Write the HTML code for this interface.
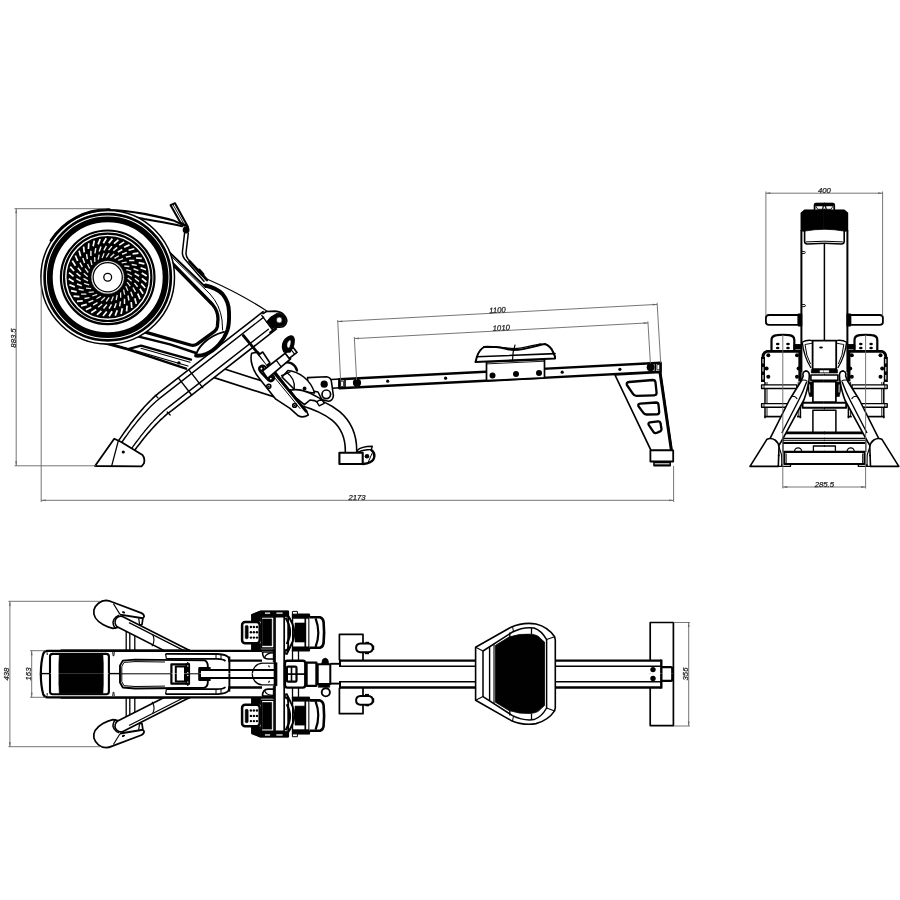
<!DOCTYPE html>
<html><head><meta charset="utf-8"><title>Rowing machine dimensions</title>
<style>html,body{margin:0;padding:0;background:#fff;}svg{display:block;font-family:"Liberation Sans",sans-serif;will-change:transform;opacity:0.999;}</style>
</head><body>
<svg width="900" height="900" viewBox="0 0 900 900">
<rect width="900" height="900" fill="#fff"/>
<g id="side-view" stroke-linejoin="round" stroke-linecap="round">
<path d="M205,368.7 L300,399.2 C327,407 352,418.5 351,452.5" stroke="#000" stroke-width="13" fill="none" stroke-linecap="butt"/>
<path d="M205,368.7 L300,399.2 C327,407 352,418.5 351,452.5" stroke="#fff" stroke-width="9.8" fill="none" stroke-linecap="butt"/>
<path d="M357,450.7 C360,447.5 366,446.3 372.3,446.3 L371.3,449.5 C366,449.5 361.5,450.5 358,452.3 Z" stroke="#000" stroke-width="1.4" fill="#fff" />
<path d="M371.3,450 C375.6,453 375.6,459.5 370,462.3 Q367.5,463.7 363,464" stroke="#000" stroke-width="2.4" fill="none" />
<line x1="372" y1="453.5" x2="368.2" y2="462.2" stroke="#000" stroke-width="1.0" />
<circle cx="367" cy="456.3" r="2.3" fill="#000"/>
<rect x="339.4" y="452.7" width="23.3" height="11.3" rx="0" stroke="#000" stroke-width="2.1" fill="#fff"/>
<path d="M263.1,311.7 L212.8,350.9 L158.3,393.4 L156.7,394.8 L155.1,396.2 L153.5,397.7 L151.9,399.2 L150.3,400.8 L148.7,402.4 L147.1,404 L145.4,405.8 L143.8,407.5 L142.2,409.4 L140.6,411.2 L138.9,413.2 L137.3,415.2 L135.6,417.2 L134,419.3 L132.3,421.4 L130.6,423.6 L129,425.9 L127.3,428.2 L125.6,430.5 L123.9,432.9 L122.2,435.4 L120.5,437.9 L118.7,440.4 L134.1,451.2 L135.8,448.8 L137.5,446.4 L139.3,444.2 L141,442 L142.7,439.8 L144.3,437.8 L146,435.7 L147.6,433.8 L149.3,431.9 L150.9,430 L152.5,428.3 L154.1,426.5 L155.6,424.9 L157.2,423.3 L158.7,421.7 L160.2,420.2 L161.7,418.8 L163.2,417.5 L164.7,416.1 L166.1,414.9 L167.5,413.7 L168.9,412.6 L170.3,411.6 L171.7,410.6 L226.2,368.1 L276.5,328.9 Z" stroke="#fff" stroke-width="0.1" fill="#fff" />
<path d="M263.1,311.7 L212.8,350.9 L158.3,393.4 L156.7,394.8 L155.1,396.2 L153.5,397.7 L151.9,399.2 L150.3,400.8 L148.7,402.4 L147.1,404 L145.4,405.8 L143.8,407.5 L142.2,409.4 L140.6,411.2 L138.9,413.2 L137.3,415.2 L135.6,417.2 L134,419.3 L132.3,421.4 L130.6,423.6 L129,425.9 L127.3,428.2 L125.6,430.5 L123.9,432.9 L122.2,435.4 L120.5,437.9 L118.7,440.4" stroke="#000" stroke-width="1.6" fill="none" />
<path d="M276.5,328.9 L226.2,368.1 L171.7,410.6 L170.3,411.6 L168.9,412.6 L167.5,413.7 L166.1,414.9 L164.7,416.1 L163.2,417.5 L161.7,418.8 L160.2,420.2 L158.7,421.7 L157.2,423.3 L155.6,424.9 L154.1,426.5 L152.5,428.3 L150.9,430 L149.3,431.9 L147.6,433.8 L146,435.7 L144.3,437.8 L142.7,439.8 L141,442 L139.3,444.2 L137.5,446.4 L135.8,448.8 L134.1,451.2" stroke="#000" stroke-width="1.6" fill="none" />
<path d="M266,315.4 L215.7,354.6 L161.2,397.1 L159.6,398.4 L158.1,399.7 L156.5,401.1 L154.9,402.5 L153.3,404 L151.7,405.5 L150.1,407.1 L148.5,408.8 L146.9,410.5 L145.3,412.2 L143.6,414 L142,415.9 L140.4,417.8 L138.7,419.8 L137,421.8 L135.4,423.9 L133.7,426 L132,428.2 L130.3,430.4 L128.6,432.7 L126.9,435.1 L125.1,437.5 L123.4,440 L121.7,442.5" stroke="#000" stroke-width="1.36" fill="none" />
<path d="M273.6,325.2 L223.3,364.4 L168.8,406.9 L167.4,408 L166,409.1 L164.6,410.3 L163.1,411.6 L161.7,412.9 L160.2,414.3 L158.7,415.7 L157.2,417.2 L155.7,418.8 L154.1,420.4 L152.6,422.1 L151,423.8 L149.4,425.6 L147.8,427.5 L146.2,429.4 L144.6,431.3 L143,433.3 L141.3,435.4 L139.7,437.6 L138,439.8 L136.3,442 L134.6,444.3 L132.9,446.7 L131.1,449.1" stroke="#000" stroke-width="1.36" fill="none" />
<path d="M95,466 L114.2,438.7 L120.8,441.7 L142.5,455 Q145.2,458.5 144,463.3 L141.7,466.3 Z" stroke="#000" stroke-width="1.8" fill="#fff" />
<line x1="118.3" y1="440.8" x2="111.7" y2="465.8" stroke="#000" stroke-width="1.3" />
<circle cx="123.3" cy="452" r="1.6" fill="#000"/>
<line x1="189.3" y1="370.4" x2="202.7" y2="387.6" stroke="#000" stroke-width="1.4" />
<line x1="178.3" y1="377.9" x2="191.7" y2="395" stroke="#000" stroke-width="1.4" />
<line x1="155.2" y1="395.2" x2="158.2" y2="398.2" stroke="#000" stroke-width="1.2" />
<line x1="167.2" y1="412" x2="170.2" y2="415" stroke="#000" stroke-width="1.2" />
<path d="M263,313.6 L266.5,311.5 L275,311.2 Q281,311.7 284.2,315.2 Q287.2,318.6 286.7,321.6 Q286,325.2 283.5,326.5 Q281,327.4 277,326.9 L270,332.5" stroke="#000" stroke-width="1.7" fill="#fff" />
<path d="M266.8,321.5 L270.3,317.3 L277,313.3 Q283.2,313.4 285.5,318.5 Q286.6,323.5 283,325.8 L277,326.5 L272.3,328.7 Z" stroke="#000" stroke-width="0.8" fill="#000" />
<circle cx="279.3" cy="320" r="2.9" stroke="#000" stroke-width="0.6" fill="#fff"/>
<line x1="261.7" y1="315.3" x2="272.7" y2="330" stroke="#000" stroke-width="1.3" />
<path d="M70,331 L86.7,340 L103.3,342.8 L127.8,349.4 L186,368.6" stroke="#000" stroke-width="2.5" fill="none" />
<path d="M100,340.4 L188,366" stroke="#000" stroke-width="1.1" fill="none" />
<path d="M128.9,348.9 L141.1,345.6 L191,359.6" stroke="#000" stroke-width="2.3" fill="none" />
<path d="M141,348.3 L190,362.3" stroke="#000" stroke-width="1.1" fill="none" />
<path d="M136.7,336.1 L170,344.4 L196,353" stroke="#000" stroke-width="2.5" fill="none" />
<circle cx="178.9" cy="362.9" r="1.7" fill="#000"/>
<path d="M160,243.2 L205.5,287" stroke="#000" stroke-width="1.9" fill="none" />
<path d="M205.5,285.5 C212,287 219,290.5 222.5,294 C227,299.5 229,305 229,312 C229.3,319 229,325 227.5,330 C225.5,336 222,341 219,344.5 C215,349 210,352.5 206,354 C202,355.5 199,356 196,355.6" stroke="#000" stroke-width="3.9" fill="none" />
<path d="M196,355.6 C197,349 206,336.5 224,331.8" stroke="#000" stroke-width="1.8" fill="none" />
<path d="M161,246.2 L210,294 Q220,305 222,320 L222.6,330" stroke="#000" stroke-width="1.0" fill="none" />
<path d="M219.5,303.5 L221,308 M222.3,312 L222.8,316.5 M225,322 L225,326" stroke="#fff" stroke-width="0.9" fill="none" />
<path d="M165,256 L212.5,304.5 Q218,311 218,319 L217.4,326.5 Q217,329.5 214.5,331.3 L197,344.2 Q194,346 190.5,345 L140,330.6" stroke="#000" stroke-width="3.3" fill="none" />
<path d="M108.9,210 C122,210 134,212 144.4,213.9 C155,216 165,218 173.3,220.4 L184.4,225.6" stroke="#000" stroke-width="2.1" fill="none" />
<path d="M110,212.4 C122,214.5 134,216.8 144.4,219 C158,221.5 170,223.5 182.2,226.2" stroke="#000" stroke-width="2.0" fill="none" />
<path d="M170.6,205.2 L175,203.2 L188,227 L180.4,222.4 Z" stroke="#000" stroke-width="2.0" fill="#fff" />
<line x1="173" y1="204.6" x2="184.6" y2="225" stroke="#000" stroke-width="0.9" />
<circle cx="186.1" cy="230" r="3.4" fill="#000"/>
<path d="M184.6,233 L182.4,252 Q182.2,256 184.6,259 L204,281.2" stroke="#000" stroke-width="1.5" fill="none" />
<path d="M188.3,233.2 L186,253 Q186,256.5 188,259 L207,279.5" stroke="#000" stroke-width="1.5" fill="none" />
<path d="M189.5,261.5 L207,280" stroke="#000" stroke-width="2.6" fill="none" />
<path d="M199,270.5 L202.5,274.5" stroke="#000" stroke-width="4.0" fill="none" />
<path d="M208,279.5 Q240,293.5 267.2,311.2" stroke="#000" stroke-width="1.1" fill="none" />
<circle cx="107.7" cy="277.3" r="66.8" stroke="#000" stroke-width="1.5" fill="#fff"/>
<path d="M51,240.5 A67.6,67.6 0 0 1 109.5,209.7" stroke="#000" stroke-width="2.8" fill="none" />
<circle cx="107.7" cy="277.3" r="63.1" stroke="#000" stroke-width="2.7" fill="none"/>
<circle cx="107.7" cy="277.3" r="57.9" stroke="#000" stroke-width="5.8" fill="none"/>
<circle cx="107.7" cy="277.3" r="46.8" stroke="#000" stroke-width="2.2" fill="none"/>
<circle cx="107.7" cy="277.3" r="43.7" stroke="#000" stroke-width="2.2" fill="none"/>
<circle cx="107.7" cy="277.3" r="28.8" stroke="#000" stroke-width="24.8" fill="none"/>
<path d="M141.9,278.3L146.4,282M141.3,283.6L145.2,288M139.9,288.8L143.1,293.8M137.7,293.7L140.1,299.1M134.8,298.2L136.3,303.9M131.2,302.2L131.8,308M127,305.6L126.6,311.4M122.3,308.3L121.1,314M117.3,310.2L115.2,315.6M112.1,311.3L109.1,316.3M106.7,311.5L103,316M101.4,310.9L97,314.8M96.2,309.5L91.2,312.7M91.3,307.3L85.9,309.7M86.8,304.4L81.1,305.9M82.8,300.8L77,301.4M79.4,296.6L73.6,296.2M76.7,291.9L71,290.7M74.8,286.9L69.4,284.8M73.7,281.7L68.7,278.7M73.5,276.3L69,272.6M74.1,271L70.2,266.6M75.5,265.8L72.3,260.8M77.7,260.9L75.3,255.5M80.6,256.4L79.1,250.7M84.2,252.4L83.6,246.6M88.4,249L88.8,243.2M93.1,246.3L94.3,240.6M98.1,244.4L100.2,239M103.3,243.3L106.3,238.3M108.7,243.1L112.4,238.6M114,243.7L118.4,239.8M119.2,245.1L124.2,241.9M124.1,247.3L129.5,244.9M128.6,250.2L134.3,248.7M132.6,253.8L138.4,253.2M136,258L141.8,258.4M138.7,262.7L144.4,263.9M140.6,267.7L146,269.8M141.7,272.9L146.7,275.9" stroke="#fff" stroke-width="1.7" fill="none" stroke-linecap="butt"/>
<path d="M134.9,278.2L138.9,281.5M134.4,282.9L137.6,286.8M133,287.5L135.5,291.9M130.8,291.7L132.6,296.5M128,295.5L128.9,300.5M124.5,298.7L124.5,303.9M120.5,301.3L119.6,306.4M116.2,303.2L114.4,308M111.5,304.3L109,308.7M106.8,304.5L103.5,308.5M102.1,304L98.2,307.2M97.5,302.6L93.1,305.1M93.3,300.4L88.5,302.2M89.5,297.6L84.5,298.5M86.3,294.1L81.1,294.1M83.7,290.1L78.6,289.2M81.8,285.8L77,284M80.7,281.1L76.3,278.6M80.5,276.4L76.5,273.1M81,271.7L77.8,267.8M82.4,267.1L79.9,262.7M84.6,262.9L82.8,258.1M87.4,259.1L86.5,254.1M90.9,255.9L90.9,250.7M94.9,253.3L95.8,248.2M99.2,251.4L101,246.6M103.9,250.3L106.4,245.9M108.6,250.1L111.9,246.1M113.3,250.6L117.2,247.4M117.9,252L122.3,249.5M122.1,254.2L126.9,252.4M125.9,257L130.9,256.1M129.1,260.5L134.3,260.5M131.7,264.5L136.8,265.4M133.6,268.8L138.4,270.6M134.7,273.5L139.1,276" stroke="#f4f4f4" stroke-width="1.45" fill="none" stroke-linecap="butt"/>
<path d="M127.7,277.9L131.6,281.3M127.2,282.1L130.3,286.2M125.8,286L127.9,290.7M123.5,289.6L124.7,294.6M120.6,292.6L120.7,297.7M117.2,295L116.2,300M113.3,296.6L111.3,301.3M109.2,297.3L106.2,301.5M105,297.2L101.2,300.7M100.9,296.2L96.5,298.8M97.1,294.3L92.3,296M93.8,291.8L88.7,292.4M91.1,288.6L86,288.1M89.1,284.9L84.2,283.4M88,280.9L83.5,278.4M87.7,276.7L83.8,273.3M88.2,272.5L85.1,268.4M89.6,268.6L87.5,263.9M91.9,265L90.7,260M94.8,262L94.7,256.9M98.2,259.6L99.2,254.6M102.1,258L104.1,253.3M106.2,257.3L109.2,253.1M110.4,257.4L114.2,253.9M114.5,258.4L118.9,255.8M118.3,260.3L123.1,258.6M121.6,262.8L126.7,262.2M124.3,266L129.4,266.5M126.3,269.7L131.2,271.2M127.4,273.7L131.9,276.2" stroke="#e8e8e8" stroke-width="1.3" fill="none" stroke-linecap="butt"/>
<circle cx="107.7" cy="277.3" r="16.6" stroke="#000" stroke-width="0.6" fill="#fff"/>
<circle cx="107.7" cy="277.3" r="14.6" stroke="#000" stroke-width="1.3" fill="none"/>
<circle cx="107.7" cy="277.3" r="3.9" stroke="#000" stroke-width="1.3" fill="none"/>
<path d="M339.3,379.3 L660.7,362.8 L660.7,371.8 L339.3,388.3 Z" stroke="#000" stroke-width="2.4" fill="#fff" />
<line x1="345" y1="379" x2="345" y2="388" stroke="#000" stroke-width="1.6" />
<rect x="341" y="381.2" width="2.6" height="5.4" rx="0" stroke="#000" stroke-width="0.8" fill="none"/>
<circle cx="357" cy="382.8" r="4.1" fill="#000"/>
<line x1="655.3" y1="363.1" x2="655.3" y2="372.1" stroke="#000" stroke-width="1.5" />
<rect x="657.3" y="364.6" width="2.6" height="5.2" rx="0" stroke="#000" stroke-width="0.8" fill="none"/>
<circle cx="650.6" cy="367.2" r="3.9" fill="#000"/>
<circle cx="387.7" cy="381.2" r="1.6" fill="#000"/>
<circle cx="445.6" cy="378.2" r="1.6" fill="#000"/>
<circle cx="562.2" cy="372.2" r="1.6" fill="#000"/>
<circle cx="619.9" cy="369.3" r="1.6" fill="#000"/>
<path d="M615,375 L660.3,372.3 L671.7,450.3 L651,450.3 Z" stroke="#000" stroke-width="1.7" fill="#fff" />
<line x1="660" y1="372.3" x2="671.4" y2="450.3" stroke="#000" stroke-width="3.0" />
<path d="M629,382 L652.8,380 Q655.2,380 655.5,382.4 L656.6,392.8 Q656.6,395.2 654.2,395.3 L636.5,395.8 Q634,395.7 632.8,393.6 L626.9,385 Q626,382.3 629,382 Z" stroke="#000" stroke-width="2.3" fill="none" />
<path d="M640.2,403.6 L656,402.5 Q658.2,402.5 658.5,404.7 L659.2,412 Q659.2,414.2 657,414.3 L646.5,414.5 Q644.3,414.4 643.2,412.6 L638.5,406.2 Q637.5,403.8 640.2,403.6 Z" stroke="#000" stroke-width="2.3" fill="none" />
<path d="M650,422.3 L658,421.3 Q660.2,421.2 660.5,423.3 L661.5,429 Q661.5,431 659.5,431.6 L656.5,433 Q654.5,433.5 653.4,431.8 L648.7,424.9 Q647.8,422.7 650,422.3 Z" stroke="#000" stroke-width="2.3" fill="none" />
<rect x="650.4" y="450.3" width="22.8" height="11.2" rx="0" stroke="#000" stroke-width="1.8" fill="#fff"/>
<rect x="654" y="462.2" width="16.2" height="3.6" rx="0" stroke="#000" stroke-width="1.5" fill="#fff"/>
<line x1="654" y1="464.2" x2="670" y2="464.2" stroke="#000" stroke-width="1.0" />
<path d="M486.5,362 L544.5,359.4 L544.5,377.8 L486.5,380.7 Z" stroke="#000" stroke-width="1.7" fill="#fff" />
<line x1="486.5" y1="363.9" x2="544.5" y2="361.2" stroke="#000" stroke-width="0.9" />
<circle cx="492.5" cy="375.5" r="3" fill="#000"/>
<circle cx="516" cy="373.9" r="3" fill="#000"/>
<circle cx="539" cy="373" r="3" fill="#000"/>
<path d="M475.5,362 L477,356.5 Q479.5,349.5 484,347 L496,347 C503,347.5 508,350 514,350 C526,350 536,345.5 545,344 Q551,346.5 553,352 L555,356.5 L555,358.4 Z" stroke="#000" stroke-width="2.0" fill="#fff" />
<path d="M477,356.8 L555,353.6" stroke="#000" stroke-width="1.6" fill="none" />
<path d="M484,346.6 C492,345.8 503,348.2 514,348.6 C524,348.6 533,345 541,343.8" stroke="#000" stroke-width="1.3" fill="none" />
<path d="M515,345 Q512.5,352 512.6,359.6" stroke="#000" stroke-width="1.2" fill="none" />
<path d="M331.5,379.4 L340,379 M332,388.3 L340,387.8" stroke="#000" stroke-width="1.5" fill="none" />
<path d="M307.5,377.6 L326.7,376.8 Q330.8,377.6 331.4,381.5 L333.4,395.5 Q333,400.8 328.5,401.3 L322,399.8 L318,392 L308,390 Z" stroke="#000" stroke-width="1.6" fill="#fff" />
<circle cx="324.2" cy="384.2" r="3.6" fill="#000"/>
<circle cx="326.3" cy="394.3" r="4.3" stroke="#000" stroke-width="1.7" fill="#fff"/>
<path d="M283.5,363 C289,360.5 295.5,364.5 297,370.5" stroke="#000" stroke-width="2.4" fill="none" />
<path d="M288,370.5 C299,371.5 311,380 314.5,393 L296,391 L282,377 Z" stroke="#000" stroke-width="1.6" fill="#fff" />
<path d="M286.7,372.5 C292.5,376.5 295,383 294.2,389" stroke="#000" stroke-width="1.4" fill="none" />
<path d="M281.5,375.5 C285,374 288,373 290,372" stroke="#000" stroke-width="1.3" fill="none" />
<path d="M290,390.3 C297,388.3 308,391 318.5,397.6 L323.3,400.2 L320.5,401.8 L316.7,401.7 L314.2,400.6 L310,400 L304.5,404.6 L296,398 Z" stroke="#000" stroke-width="1.6" fill="#fff" />
<path d="M316.7,401.7 L321.7,399.2 L324.2,403.3 L319.2,405.8 Z" stroke="#000" stroke-width="1.4" fill="#fff" />
<circle cx="304.6" cy="388.4" r="1.9" fill="#000"/>
<path d="M251.7,353.3 C249.5,360 253,371 259,378 L275.8,399.2 L290,408.3 L298.3,415.8 Q303,418.3 308.3,415 L306.5,411 L302,406.5 L268,362.5 L258,352 Z" stroke="#000" stroke-width="1.6" fill="#fff" />
<line x1="243.3" y1="335.5" x2="306" y2="411.2" stroke="#000" stroke-width="2.8" />
<line x1="272.5" y1="375" x2="300" y2="408.5" stroke="#000" stroke-width="1.0" />
<path d="M259.3,354.5 L262.7,352 L270,363 L267,365.2" stroke="#000" stroke-width="1.6" fill="#fff" />
<path d="M260.5,366.5 Q258,369 260.5,372 L268.5,380.5 Q271.5,382.5 273.5,380 Q275,377.5 273,375.5 L265,366.5 Q262.5,364.5 260.5,366.5 Z" stroke="#000" stroke-width="2.0" fill="#fff" />
<circle cx="261.3" cy="368.6" r="2.1" stroke="#000" stroke-width="2.0" fill="none"/>
<circle cx="270.8" cy="378.6" r="1.9" stroke="#000" stroke-width="2.0" fill="none"/>
<circle cx="268.8" cy="386.3" r="2" stroke="#000" stroke-width="1.6" fill="none"/>
<circle cx="268.8" cy="386.3" r="0.9" fill="#000"/>
<circle cx="294.6" cy="405.4" r="1.9" stroke="#000" stroke-width="1.6" fill="none"/>
<circle cx="294.6" cy="405.4" r="0.9" fill="#000"/>
<path d="M262.4,371 L286,352.6 L290.6,358.8 L267.6,378.4 Z" stroke="#000" stroke-width="1.7" fill="#fff" />
<line x1="276.3" y1="360.4" x2="281.2" y2="366.8" stroke="#000" stroke-width="1.3" />
<path d="M285,353 L293,347.3 L297,352.4 L289.2,358.4 Z" stroke="#000" stroke-width="1.7" fill="#fff" />
<line x1="290.6" y1="349.2" x2="294.6" y2="354.2" stroke="#000" stroke-width="1.1" />
<path d="M283.8,351.8 C280.5,345 283.8,338 290.8,336 C295.5,336 294.5,343 292.8,347.5 L290,352 Z" stroke="#000" stroke-width="1.4" fill="#000" />
<path d="M287.6,346.8 C286.8,343.5 288.3,341 290.2,340.4 C290.8,342.5 290,345 289,347.4 Z" stroke="#fff" stroke-width="0.5" fill="#fff" />
</g>
<g id="front-view" stroke-linejoin="round" stroke-linecap="butt">
<g><line x1="765" y1="381" x2="765" y2="418.3" stroke="#000" stroke-width="1.5" />
<line x1="767" y1="381" x2="767" y2="416" stroke="#000" stroke-width="0.9" />
<line x1="800.4" y1="381" x2="800.4" y2="418.3" stroke="#000" stroke-width="1.5" />
<line x1="798.2" y1="381" x2="798.2" y2="416" stroke="#000" stroke-width="0.9" />
<line x1="764.3" y1="416.6" x2="781" y2="416.6" stroke="#000" stroke-width="1.7" />
<line x1="797" y1="416.6" x2="801.1" y2="416.6" stroke="#000" stroke-width="1.7" />
<rect x="761.6" y="384.9" width="35.2" height="3.6" rx="0" stroke="#000" stroke-width="1.4" fill="#fff"/>
<rect x="761.6" y="403.6" width="35.2" height="3.7" rx="0" stroke="#000" stroke-width="1.4" fill="#fff"/>
<line x1="764" y1="384.9" x2="764" y2="388.5" stroke="#000" stroke-width="0.9" />
<line x1="764" y1="403.6" x2="764" y2="407.3" stroke="#000" stroke-width="0.9" />
<path d="M771.5,350.5 L771.5,340 Q771.5,335.6 777,335.1 Q783,334.4 789,335.1 Q794.3,335.6 794.3,340 L794.3,350.5" stroke="#000" stroke-width="2.2" fill="#fff" />
<ellipse cx="777.7" cy="344" rx="1.8" ry="1.25" fill="#000"/>
<ellipse cx="777.7" cy="348" rx="1.8" ry="1.25" fill="#000"/>
<ellipse cx="788" cy="344" rx="1.8" ry="1.25" fill="#000"/>
<ellipse cx="788" cy="348" rx="1.8" ry="1.25" fill="#000"/>
<path d="M765,382 L765,354 L801,351.4 L801,382 Z" stroke="#fff" stroke-width="0.1" fill="#fff" />
<path d="M763,382 L763,357 Q763,352.6 767,351.4 L801,351.4" stroke="#000" stroke-width="2.9" fill="none" />
<line x1="763" y1="357" x2="763" y2="382" stroke="#000" stroke-width="4.0" />
<path d="M763,359 L763,380" stroke="#fff" stroke-width="1.0" fill="none" stroke-dasharray="4.5 3.5"/>
<line x1="800" y1="351" x2="800" y2="381.5" stroke="#000" stroke-width="3.3" />
<circle cx="768.3" cy="355.2" r="2" fill="#000"/>
<circle cx="797" cy="355.2" r="2" fill="#000"/>
<circle cx="766.6" cy="368.4" r="2" fill="#000"/>
<circle cx="798.6" cy="368.6" r="2" fill="#000"/>
<circle cx="768.3" cy="376.8" r="2" fill="#000"/>
<circle cx="797" cy="376.8" r="2" fill="#000"/>
<rect x="794" y="344.6" width="7.5" height="4.4" rx="0" stroke="#000" stroke-width="1.0" fill="#000"/>
<path d="M798.4,315 L769,315 Q765.9,315 765.9,318 L765.9,322 Q765.9,324.9 769,324.9 L798.4,324.9 Z" stroke="#000" stroke-width="1.8" fill="#fff" />
<rect x="798.2" y="313.8" width="3.8" height="12.4" rx="0" stroke="#000" stroke-width="0.6" fill="#000"/>
<line x1="782.4" y1="432.9" x2="824.9" y2="432.9" stroke="#000" stroke-width="2.9" />
<line x1="783" y1="438.5" x2="824.9" y2="438.5" stroke="#000" stroke-width="1.4" />
<line x1="783" y1="440.6" x2="824.9" y2="440.6" stroke="#000" stroke-width="0.9" />
<line x1="783" y1="443" x2="824.9" y2="443" stroke="#000" stroke-width="2.0" />
<line x1="783.5" y1="451.8" x2="824.9" y2="451.8" stroke="#000" stroke-width="2.2" />
<line x1="783" y1="433" x2="783" y2="452" stroke="#000" stroke-width="1.2" />
<path d="M784.3,452 L784.3,464 L824.9,464" stroke="#000" stroke-width="2.0" fill="none" />
<line x1="786.2" y1="453.5" x2="786.2" y2="463" stroke="#000" stroke-width="0.9" />
<path d="M782,464 L782,466.3 L790.5,466.3 L790.5,464" stroke="#000" stroke-width="1.3" fill="none" />
<path d="M794.5,451.5 A3.6,3.6 0 0 1 801.7,451.5" stroke="#000" stroke-width="1.3" fill="none" />
<path d="M825.0,446 L813.4,446 L813.4,451.8 L825.0,451.8" stroke="#000" stroke-width="1.3" fill="none" />
<path d="M824.9,410.2 L812.9,410.2 L812.9,432.5" stroke="#000" stroke-width="1.5" fill="none" />
<line x1="801.4" y1="230" x2="801.4" y2="372" stroke="#000" stroke-width="2.0" />
<path d="M801.5,342.5 Q807,339.5 812.5,340.6" stroke="#000" stroke-width="1.4" fill="none" />
<path d="M802.3,342.5 Q804,357 811,368" stroke="#000" stroke-width="1.3" fill="none" />
<path d="M805,344.5 Q806,356 810.5,364" stroke="#000" stroke-width="1.0" fill="none" />
<path d="M805,344.5 L812.3,343.2" stroke="#000" stroke-width="0.9" fill="none" />
<path d="M825.0,402.8 L802.6,402.8 L802.6,407.8 L825.0,407.8" stroke="#000" stroke-width="1.9" fill="#fff" />
<path d="M825.0,381.6 L812.9,381.6 L812.9,402.2 L825.0,402.2" stroke="#000" stroke-width="1.7" fill="#fff" />
<path d="M825.0,375 L810.9,375 L810.9,380.4 L825.0,380.4" stroke="#000" stroke-width="1.6" fill="#fff" />
<path d="M824.9,369.6 L811.3,369.6 L811.3,373 L824.9,373 Z" stroke="#000" stroke-width="0.6" fill="#000" />
<path d="M824.9,370.5 L819.9,370.5 L819.9,372.2 L824.9,372.2 Z" stroke="#fff" stroke-width="0.4" fill="#fff" />
<path d="M825.0,340.6 L812.6,340.6 L812.6,369.2 L825.0,369.2" stroke="#000" stroke-width="1.8" fill="#fff" />
<path d="M807.6,382 L812.6,382 L812.6,396.5 L809.5,396.5 Q807.4,390 807.6,382 Z" stroke="#000" stroke-width="0.6" fill="#000" />
<path d="M809.6,384.5 L809.8,392.5" stroke="#fff" stroke-width="0.9" fill="none" />
<path d="M803.2,376 Q802,372 805.5,370.9 Q809.6,371 809.3,376 L809,380.2 Q807,392 803.9,400 L786.7,431.7 L781,442 L776,450 L766,446 L770,438.6 L789.35,400 L801.2,381 Z" stroke="#000" stroke-width="1.6" fill="#fff" />
<path d="M806.7,381.8 Q803,392 798.8,400 L781.8,433" stroke="#000" stroke-width="1.4" fill="none" />
<path d="M802,380.2 Q805,379.6 807.6,381.4" stroke="#000" stroke-width="1.1" fill="none" />
<path d="M791.7,396.3 Q795.5,395.8 797.2,398.9" stroke="#000" stroke-width="1.1" fill="none" />
<path d="M750,466.4 L767,439.2 Q771,437.4 775,440 Q778.5,442.5 779,447 L778.3,466.4 Z" stroke="#000" stroke-width="1.6" fill="#fff" />
<path d="M779,447 L781.6,455 L781.8,466.4 L778.3,466.4" stroke="#000" stroke-width="1.1" fill="none" />
<circle cx="778.8" cy="455.5" r="1" fill="#000"/>
<path d="M824.9,210.4 L804.6,210.4 L801.4,213 L801.4,230.4 L804.6,231 L804.6,241.5 Q804.8,244 807.3,244 L824.9,243.2" stroke="#000" stroke-width="1.6" fill="#fff" />
<path d="M824.9,210.4 L804.6,210.4 L801.4,213 L801.4,230.4 L805,231 Q814,229.4 824.9,229.2 Z" stroke="#000" stroke-width="0.8" fill="#000" />
<path d="M806,241.9 L824.9,241.2" stroke="#000" stroke-width="1.0" fill="none" />
<path d="M824.9,203.6 L816,203.6 Q814.6,203.6 814.6,205 L814.6,210" stroke="#000" stroke-width="1.8" fill="#fff" />
<path d="M824.9,203.3 L815.4,203.3 L815.4,206 L824.9,206 Z" stroke="#000" stroke-width="0.5" fill="#000" />
<path d="M816,206.3 L817.6,209.3 L824.9,209.3" stroke="#000" stroke-width="0.9" fill="none" />
<path d="M823.4,206 L822.5,209.3" stroke="#000" stroke-width="1.2" fill="none" /></g>
<g transform="translate(1648.8,0) scale(-1,1)"><line x1="765" y1="381" x2="765" y2="418.3" stroke="#000" stroke-width="1.5" />
<line x1="767" y1="381" x2="767" y2="416" stroke="#000" stroke-width="0.9" />
<line x1="800.4" y1="381" x2="800.4" y2="418.3" stroke="#000" stroke-width="1.5" />
<line x1="798.2" y1="381" x2="798.2" y2="416" stroke="#000" stroke-width="0.9" />
<line x1="764.3" y1="416.6" x2="781" y2="416.6" stroke="#000" stroke-width="1.7" />
<line x1="797" y1="416.6" x2="801.1" y2="416.6" stroke="#000" stroke-width="1.7" />
<rect x="761.6" y="384.9" width="35.2" height="3.6" rx="0" stroke="#000" stroke-width="1.4" fill="#fff"/>
<rect x="761.6" y="403.6" width="35.2" height="3.7" rx="0" stroke="#000" stroke-width="1.4" fill="#fff"/>
<line x1="764" y1="384.9" x2="764" y2="388.5" stroke="#000" stroke-width="0.9" />
<line x1="764" y1="403.6" x2="764" y2="407.3" stroke="#000" stroke-width="0.9" />
<path d="M771.5,350.5 L771.5,340 Q771.5,335.6 777,335.1 Q783,334.4 789,335.1 Q794.3,335.6 794.3,340 L794.3,350.5" stroke="#000" stroke-width="2.2" fill="#fff" />
<ellipse cx="777.7" cy="344" rx="1.8" ry="1.25" fill="#000"/>
<ellipse cx="777.7" cy="348" rx="1.8" ry="1.25" fill="#000"/>
<ellipse cx="788" cy="344" rx="1.8" ry="1.25" fill="#000"/>
<ellipse cx="788" cy="348" rx="1.8" ry="1.25" fill="#000"/>
<path d="M765,382 L765,354 L801,351.4 L801,382 Z" stroke="#fff" stroke-width="0.1" fill="#fff" />
<path d="M763,382 L763,357 Q763,352.6 767,351.4 L801,351.4" stroke="#000" stroke-width="2.9" fill="none" />
<line x1="763" y1="357" x2="763" y2="382" stroke="#000" stroke-width="4.0" />
<path d="M763,359 L763,380" stroke="#fff" stroke-width="1.0" fill="none" stroke-dasharray="4.5 3.5"/>
<line x1="800" y1="351" x2="800" y2="381.5" stroke="#000" stroke-width="3.3" />
<circle cx="768.3" cy="355.2" r="2" fill="#000"/>
<circle cx="797" cy="355.2" r="2" fill="#000"/>
<circle cx="766.6" cy="368.4" r="2" fill="#000"/>
<circle cx="798.6" cy="368.6" r="2" fill="#000"/>
<circle cx="768.3" cy="376.8" r="2" fill="#000"/>
<circle cx="797" cy="376.8" r="2" fill="#000"/>
<rect x="794" y="344.6" width="7.5" height="4.4" rx="0" stroke="#000" stroke-width="1.0" fill="#000"/>
<path d="M798.4,315 L769,315 Q765.9,315 765.9,318 L765.9,322 Q765.9,324.9 769,324.9 L798.4,324.9 Z" stroke="#000" stroke-width="1.8" fill="#fff" />
<rect x="798.2" y="313.8" width="3.8" height="12.4" rx="0" stroke="#000" stroke-width="0.6" fill="#000"/>
<line x1="782.4" y1="432.9" x2="824.9" y2="432.9" stroke="#000" stroke-width="2.9" />
<line x1="783" y1="438.5" x2="824.9" y2="438.5" stroke="#000" stroke-width="1.4" />
<line x1="783" y1="440.6" x2="824.9" y2="440.6" stroke="#000" stroke-width="0.9" />
<line x1="783" y1="443" x2="824.9" y2="443" stroke="#000" stroke-width="2.0" />
<line x1="783.5" y1="451.8" x2="824.9" y2="451.8" stroke="#000" stroke-width="2.2" />
<line x1="783" y1="433" x2="783" y2="452" stroke="#000" stroke-width="1.2" />
<path d="M784.3,452 L784.3,464 L824.9,464" stroke="#000" stroke-width="2.0" fill="none" />
<line x1="786.2" y1="453.5" x2="786.2" y2="463" stroke="#000" stroke-width="0.9" />
<path d="M782,464 L782,466.3 L790.5,466.3 L790.5,464" stroke="#000" stroke-width="1.3" fill="none" />
<path d="M794.5,451.5 A3.6,3.6 0 0 1 801.7,451.5" stroke="#000" stroke-width="1.3" fill="none" />
<path d="M825.0,446 L813.4,446 L813.4,451.8 L825.0,451.8" stroke="#000" stroke-width="1.3" fill="none" />
<path d="M824.9,410.2 L812.9,410.2 L812.9,432.5" stroke="#000" stroke-width="1.5" fill="none" />
<line x1="801.4" y1="230" x2="801.4" y2="372" stroke="#000" stroke-width="2.0" />
<path d="M801.5,342.5 Q807,339.5 812.5,340.6" stroke="#000" stroke-width="1.4" fill="none" />
<path d="M802.3,342.5 Q804,357 811,368" stroke="#000" stroke-width="1.3" fill="none" />
<path d="M805,344.5 Q806,356 810.5,364" stroke="#000" stroke-width="1.0" fill="none" />
<path d="M805,344.5 L812.3,343.2" stroke="#000" stroke-width="0.9" fill="none" />
<path d="M825.0,402.8 L802.6,402.8 L802.6,407.8 L825.0,407.8" stroke="#000" stroke-width="1.9" fill="#fff" />
<path d="M825.0,381.6 L812.9,381.6 L812.9,402.2 L825.0,402.2" stroke="#000" stroke-width="1.7" fill="#fff" />
<path d="M825.0,375 L810.9,375 L810.9,380.4 L825.0,380.4" stroke="#000" stroke-width="1.6" fill="#fff" />
<path d="M824.9,369.6 L811.3,369.6 L811.3,373 L824.9,373 Z" stroke="#000" stroke-width="0.6" fill="#000" />
<path d="M824.9,370.5 L819.9,370.5 L819.9,372.2 L824.9,372.2 Z" stroke="#fff" stroke-width="0.4" fill="#fff" />
<path d="M825.0,340.6 L812.6,340.6 L812.6,369.2 L825.0,369.2" stroke="#000" stroke-width="1.8" fill="#fff" />
<path d="M807.6,382 L812.6,382 L812.6,396.5 L809.5,396.5 Q807.4,390 807.6,382 Z" stroke="#000" stroke-width="0.6" fill="#000" />
<path d="M809.6,384.5 L809.8,392.5" stroke="#fff" stroke-width="0.9" fill="none" />
<path d="M803.2,376 Q802,372 805.5,370.9 Q809.6,371 809.3,376 L809,380.2 Q807,392 803.9,400 L786.7,431.7 L781,442 L776,450 L766,446 L770,438.6 L789.35,400 L801.2,381 Z" stroke="#000" stroke-width="1.6" fill="#fff" />
<path d="M806.7,381.8 Q803,392 798.8,400 L781.8,433" stroke="#000" stroke-width="1.4" fill="none" />
<path d="M802,380.2 Q805,379.6 807.6,381.4" stroke="#000" stroke-width="1.1" fill="none" />
<path d="M791.7,396.3 Q795.5,395.8 797.2,398.9" stroke="#000" stroke-width="1.1" fill="none" />
<path d="M750,466.4 L767,439.2 Q771,437.4 775,440 Q778.5,442.5 779,447 L778.3,466.4 Z" stroke="#000" stroke-width="1.6" fill="#fff" />
<path d="M779,447 L781.6,455 L781.8,466.4 L778.3,466.4" stroke="#000" stroke-width="1.1" fill="none" />
<circle cx="778.8" cy="455.5" r="1" fill="#000"/>
<path d="M824.9,210.4 L804.6,210.4 L801.4,213 L801.4,230.4 L804.6,231 L804.6,241.5 Q804.8,244 807.3,244 L824.9,243.2" stroke="#000" stroke-width="1.6" fill="#fff" />
<path d="M824.9,210.4 L804.6,210.4 L801.4,213 L801.4,230.4 L805,231 Q814,229.4 824.9,229.2 Z" stroke="#000" stroke-width="0.8" fill="#000" />
<path d="M806,241.9 L824.9,241.2" stroke="#000" stroke-width="1.0" fill="none" />
<path d="M824.9,203.6 L816,203.6 Q814.6,203.6 814.6,205 L814.6,210" stroke="#000" stroke-width="1.8" fill="#fff" />
<path d="M824.9,203.3 L815.4,203.3 L815.4,206 L824.9,206 Z" stroke="#000" stroke-width="0.5" fill="#000" />
<path d="M816,206.3 L817.6,209.3 L824.9,209.3" stroke="#000" stroke-width="0.9" fill="none" />
<path d="M823.4,206 L822.5,209.3" stroke="#000" stroke-width="1.2" fill="none" /></g>
<line x1="824.4" y1="243.5" x2="824.4" y2="340.6" stroke="#000" stroke-width="1.5" />
<ellipse cx="821" cy="347.5" rx="1.9" ry="0.9" fill="#000"/>
<path d="M801.5,251.3 L804.8,251.6 Q805.8,252.5 804.8,253.4 L801.5,253.6" stroke="#000" stroke-width="0.9" fill="none" />
<path d="M801.5,304.4 L805,304.7 Q806,305.6 805,306.5 L801.5,306.8" stroke="#000" stroke-width="0.9" fill="none" />
</g>
<g id="top-view" stroke-linejoin="round" stroke-linecap="butt">
<g><line x1="126.2" y1="628" x2="126.2" y2="651" stroke="#000" stroke-width="1.3" />
<line x1="129.8" y1="630" x2="129.8" y2="651" stroke="#000" stroke-width="1.3" />
<line x1="134.8" y1="632" x2="134.8" y2="651" stroke="#000" stroke-width="1.3" />
<path d="M113,628.4 C110,627.8 106.5,626.5 102.9,624.5 C96,620.5 93,615 93.9,610 C95.5,604.5 100.5,600.6 106,600.4 Q109,600.6 112.2,602 L141,612.9 Q144.3,614.2 144.1,616.8 L142.9,618.3 L142,624.5 L125,626 Z" stroke="#000" stroke-width="1.7" fill="#fff" />
<line x1="113.4" y1="603.6" x2="120" y2="614.4" stroke="#000" stroke-width="1.1" />
<line x1="120" y1="614.6" x2="142.9" y2="618.3" stroke="#000" stroke-width="1.9" />
<line x1="138.7" y1="618.2" x2="139.5" y2="624" stroke="#000" stroke-width="1.2" />
<ellipse cx="123.5" cy="612.3" rx="1.7" ry="1.0" fill="#000" transform="rotate(20 123.5 612.3)"/>
<path d="M119.2,615.2 C114.5,616.8 111.8,621.5 113.4,625 Q114.3,627.5 116.1,628.6" stroke="#000" stroke-width="1.5" fill="none" />
<path d="M121.5,617.6 C117.5,618.8 115.3,622 116.3,624.6 Q117,626.2 118.4,626.9" stroke="#000" stroke-width="1.3" fill="none" />
<path d="M120.8,622.1 L190,657.2" stroke="#000" stroke-width="13.2" fill="none" stroke-linecap="round"/>
<path d="M120.8,622.1 L190,657.2" stroke="#fff" stroke-width="10" fill="none" stroke-linecap="round"/>
<line x1="129" y1="622.6" x2="186" y2="651.6" stroke="#000" stroke-width="1.2" />
<path d="M152.5,634.3 Q155.8,640.5 152,646.3" stroke="#000" stroke-width="1.1" fill="none" />
<path d="M40.8,674.55 Q40.9,662 43.2,654 Q44.2,650.8 47.5,650.8 L262,650.8 L262,674.55 Z" stroke="#fff" stroke-width="0.1" fill="#fff" />
<path d="M40.8,674.3499999999999 Q40.9,662 43.2,654 Q44.2,650.8 47.5,650.8 L262,650.8" stroke="#000" stroke-width="2.2" fill="none" />
<line x1="60.6" y1="649.9" x2="190" y2="649.9" stroke="#000" stroke-width="1.0" />
<line x1="47.2" y1="652.5" x2="47.2" y2="655" stroke="#000" stroke-width="1.0" />
<path d="M50,674.3499999999999 L50,656.6 Q50,653.9 52.7,653.9 L106.2,653.9 Q108.9,653.9 108.9,656.6 L108.9,674.3499999999999" stroke="#000" stroke-width="2.1" fill="none" />
<path d="M58.9,674.4499999999999 Q58.6,664 59.3,654.6 L102.9,654.6 Q103.6,664 103.3,674.4499999999999 Z" stroke="#000" stroke-width="0.6" fill="#000" />
<path d="M112.7,652 L113.1,655.8 L113.9,655.8 L114.3,652" stroke="#000" stroke-width="0.9" fill="none" />
<path d="M120,674.3499999999999 L120,665.6 L122.8,660.6 L135,659.6 L204.4,660.4 Q207.6,661.5 207.8,665.6 L207.8,668" stroke="#000" stroke-width="1.9" fill="none" />
<path d="M121.8,674.3499999999999 L121.8,666.4 L124,662.4 L135,661.6 L165,662" stroke="#000" stroke-width="1.0" fill="none" />
<path d="M165.6,653.9 L218,654 Q226.5,654.6 228.6,657.6 L229.4,662" stroke="#000" stroke-width="1.8" fill="none" />
<path d="M166.4,658.9 L217,658.9 Q223,659 225.5,661" stroke="#000" stroke-width="1.8" fill="none" />
<line x1="165.6" y1="653.9" x2="166.4" y2="658.9" stroke="#000" stroke-width="1.2" />
<line x1="216" y1="654" x2="216" y2="658.9" stroke="#000" stroke-width="1.0" />
<line x1="221" y1="654.6" x2="221" y2="659.4" stroke="#000" stroke-width="1.0" />
<path d="M229.4,656.5 L229.4,674.3499999999999" stroke="#000" stroke-width="1.9" fill="none" />
<line x1="229.4" y1="660.6" x2="262" y2="660.6" stroke="#000" stroke-width="2.3" />
<line x1="201" y1="670" x2="275" y2="670" stroke="#000" stroke-width="2.0" />
<path d="M171.4,674.3499999999999 L171.4,664.4 L189,664.4 L189,674.3499999999999" stroke="#000" stroke-width="2.2" fill="none" />
<path d="M175.8,674.3499999999999 L175.8,666.6 L185,666.6 L185,674.3499999999999" stroke="#000" stroke-width="2.0" fill="none" />
<rect x="185.6" y="663.6" width="3.8" height="10.6" rx="0" stroke="#000" stroke-width="0.4" fill="#000"/>
<circle cx="187.8" cy="662.8" r="0.8" fill="#000"/>
<circle cx="187.8" cy="669.4" r="0.8" fill="#000"/>
<circle cx="187.8" cy="666" r="0.7" fill="#fff"/>
<circle cx="187.8" cy="672.6" r="0.7" fill="#fff"/>
<path d="M199.6,674.3499999999999 L199.6,668.4 L210.6,668.4" stroke="#000" stroke-width="2.8" fill="none" />
<path d="M252.3,674.3499999999999 A10.6,10.6 0 0 1 262,663.2" stroke="#000" stroke-width="1.3" fill="none" />
<line x1="262" y1="663.2" x2="275" y2="663.2" stroke="#000" stroke-width="1.2" />
<path d="M268.5,665.5 L269.5,667.2" stroke="#000" stroke-width="1.2" fill="none" />
<path d="M252,614.8 L260.2,611.5 L288.2,611.5 L288.2,650.2 L252,650.2 Z" stroke="#000" stroke-width="1.8" fill="#fff" />
<path d="M252,616.7 L252,614.8 L260.2,611.2 L288.2,611.2 L288.2,616.7 Z" stroke="#000" stroke-width="0.8" fill="#000" />
<rect x="252" y="614.6" width="8.8" height="6.8" rx="0" stroke="#000" stroke-width="0.6" fill="#000"/>
<rect x="252" y="643.5" width="8.8" height="6.7" rx="0" stroke="#000" stroke-width="0.6" fill="#000"/>
<rect x="261.4" y="616.9" width="12.6" height="31" rx="0" stroke="#000" stroke-width="1.5" fill="#fff"/>
<rect x="262.3" y="619" width="9.4" height="26.6" rx="0" stroke="#000" stroke-width="0.6" fill="#000"/>
<rect x="265" y="612.6" width="5" height="1.1" rx="0" stroke="#fff" stroke-width="0.2" fill="#fff"/>
<rect x="276.5" y="612.6" width="6" height="1.1" rx="0" stroke="#fff" stroke-width="0.2" fill="#fff"/>
<rect x="242.1" y="621.9" width="17.6" height="21.4" rx="3" stroke="#000" stroke-width="2.5" fill="#fff"/>
<rect x="245.2" y="625.4" width="3" height="13.4" rx="1.2" stroke="#000" stroke-width="0.5" fill="#000"/>
<circle cx="250.9" cy="627" r="1.2" fill="#000"/>
<circle cx="250.9" cy="632.2" r="1.2" fill="#000"/>
<circle cx="250.9" cy="637.6" r="1.2" fill="#000"/>
<circle cx="253.9" cy="627" r="1.2" fill="#000"/>
<circle cx="253.9" cy="632.2" r="1.2" fill="#000"/>
<circle cx="253.9" cy="637.6" r="1.2" fill="#000"/>
<circle cx="256.9" cy="627" r="1.2" fill="#000"/>
<circle cx="256.9" cy="632.2" r="1.2" fill="#000"/>
<circle cx="256.9" cy="637.6" r="1.2" fill="#000"/>
<rect x="292.6" y="614.4" width="16.6" height="36.3" rx="0" stroke="#000" stroke-width="1.2" fill="#fff"/>
<rect x="292" y="613.9" width="17.6" height="4.7" rx="0" stroke="#000" stroke-width="0.4" fill="#000"/>
<rect x="292" y="646.7" width="17.6" height="4.4" rx="0" stroke="#000" stroke-width="0.4" fill="#000"/>
<rect x="295" y="623" width="10.6" height="19" rx="0" stroke="#000" stroke-width="0.6" fill="#000"/>
<line x1="305.3" y1="618" x2="305.3" y2="647" stroke="#000" stroke-width="1.7" />
<line x1="309.3" y1="615" x2="309.3" y2="650" stroke="#000" stroke-width="1.6" />
<path d="M309.4,617.3 L320,617.3 Q323,618 323.6,622 Q324.6,632.5 323.6,643 Q323,647 320,647.7 L309.4,647.7" stroke="#000" stroke-width="2.6" fill="#fff" />
<path d="M315.6,618.4 Q321,632.8 315.6,646.8" stroke="#000" stroke-width="2.2" fill="none" />
<rect x="292.4" y="611.4" width="5" height="2.8" rx="0" stroke="#000" stroke-width="1.0" fill="#fff"/>
<path d="M262.5,652 Q262.5,659 268,659 L274,659 L274,652 Z" stroke="#000" stroke-width="1.6" fill="#fff" />
<path d="M264.5,657.8 Q266,652.6 274,652.8" stroke="#000" stroke-width="1.2" fill="none" />
<rect x="273.2" y="649" width="5.4" height="13" rx="0" stroke="#000" stroke-width="0.6" fill="#000"/>
<line x1="292.5" y1="650" x2="292.5" y2="660.5" stroke="#000" stroke-width="1.3" />
<line x1="298.5" y1="650" x2="298.5" y2="660.5" stroke="#000" stroke-width="1.3" />
<path d="M339.4,660.3 L339.4,634.4 L363,634.4 L363,660.3" stroke="#000" stroke-width="1.7" fill="none" />
<path d="M360.5,643.4 L368.4,643.4 Q372.8,643.6 372.8,647.8 Q372.8,652 368.4,652.2 L360.5,652.2 Q356.1,652 356.1,647.8 Q356.1,643.6 360.5,643.4 Z" stroke="#000" stroke-width="2.0" fill="#fff" />
<path d="M365.5,642.6 L369,642.6" stroke="#000" stroke-width="1.6" fill="none" />
<path d="M365,653.2 L369,653.2" stroke="#000" stroke-width="2.0" fill="none" />
<path d="M373.4,645.5 L373.4,650" stroke="#000" stroke-width="1.6" fill="none" />
<path d="M650.2,674.3499999999999 L650.2,622.5 L673.4,622.5 L673.4,674.3499999999999" stroke="#000" stroke-width="1.7" fill="#fff" />
<path d="M661.3,667.2 L671,667.2 Q672.3,667.4 672.3,668.8 L672.3,674.3499999999999" stroke="#000" stroke-width="2.3" fill="none" />
<path d="M645,660.6 L661.3,660.6 L661.3,674.3499999999999 L645,674.3499999999999 Z" stroke="#fff" stroke-width="0.1" fill="#fff" />
<line x1="339.4" y1="660.6" x2="661.3" y2="660.6" stroke="#000" stroke-width="2.3" />
<line x1="339.4" y1="666.3" x2="661.3" y2="666.3" stroke="#000" stroke-width="1.5" />
<line x1="340" y1="659.6" x2="340" y2="667" stroke="#000" stroke-width="2.0" />
<path d="M661.3,659.5 L661.3,674.3499999999999" stroke="#000" stroke-width="2.4" fill="none" />
<circle cx="653" cy="669.6" r="2.7" fill="#000"/></g>
<g transform="translate(0,1348.1) scale(1,-1)"><line x1="126.2" y1="628" x2="126.2" y2="651" stroke="#000" stroke-width="1.3" />
<line x1="129.8" y1="630" x2="129.8" y2="651" stroke="#000" stroke-width="1.3" />
<line x1="134.8" y1="632" x2="134.8" y2="651" stroke="#000" stroke-width="1.3" />
<path d="M113,628.4 C110,627.8 106.5,626.5 102.9,624.5 C96,620.5 93,615 93.9,610 C95.5,604.5 100.5,600.6 106,600.4 Q109,600.6 112.2,602 L141,612.9 Q144.3,614.2 144.1,616.8 L142.9,618.3 L142,624.5 L125,626 Z" stroke="#000" stroke-width="1.7" fill="#fff" />
<line x1="113.4" y1="603.6" x2="120" y2="614.4" stroke="#000" stroke-width="1.1" />
<line x1="120" y1="614.6" x2="142.9" y2="618.3" stroke="#000" stroke-width="1.9" />
<line x1="138.7" y1="618.2" x2="139.5" y2="624" stroke="#000" stroke-width="1.2" />
<ellipse cx="123.5" cy="612.3" rx="1.7" ry="1.0" fill="#000" transform="rotate(20 123.5 612.3)"/>
<path d="M119.2,615.2 C114.5,616.8 111.8,621.5 113.4,625 Q114.3,627.5 116.1,628.6" stroke="#000" stroke-width="1.5" fill="none" />
<path d="M121.5,617.6 C117.5,618.8 115.3,622 116.3,624.6 Q117,626.2 118.4,626.9" stroke="#000" stroke-width="1.3" fill="none" />
<path d="M120.8,622.1 L190,657.2" stroke="#000" stroke-width="13.2" fill="none" stroke-linecap="round"/>
<path d="M120.8,622.1 L190,657.2" stroke="#fff" stroke-width="10" fill="none" stroke-linecap="round"/>
<line x1="129" y1="622.6" x2="186" y2="651.6" stroke="#000" stroke-width="1.2" />
<path d="M152.5,634.3 Q155.8,640.5 152,646.3" stroke="#000" stroke-width="1.1" fill="none" />
<path d="M40.8,674.55 Q40.9,662 43.2,654 Q44.2,650.8 47.5,650.8 L262,650.8 L262,674.55 Z" stroke="#fff" stroke-width="0.1" fill="#fff" />
<path d="M40.8,674.3499999999999 Q40.9,662 43.2,654 Q44.2,650.8 47.5,650.8 L262,650.8" stroke="#000" stroke-width="2.2" fill="none" />
<line x1="60.6" y1="649.9" x2="190" y2="649.9" stroke="#000" stroke-width="1.0" />
<line x1="47.2" y1="652.5" x2="47.2" y2="655" stroke="#000" stroke-width="1.0" />
<path d="M50,674.3499999999999 L50,656.6 Q50,653.9 52.7,653.9 L106.2,653.9 Q108.9,653.9 108.9,656.6 L108.9,674.3499999999999" stroke="#000" stroke-width="2.1" fill="none" />
<path d="M58.9,674.4499999999999 Q58.6,664 59.3,654.6 L102.9,654.6 Q103.6,664 103.3,674.4499999999999 Z" stroke="#000" stroke-width="0.6" fill="#000" />
<path d="M112.7,652 L113.1,655.8 L113.9,655.8 L114.3,652" stroke="#000" stroke-width="0.9" fill="none" />
<path d="M120,674.3499999999999 L120,665.6 L122.8,660.6 L135,659.6 L204.4,660.4 Q207.6,661.5 207.8,665.6 L207.8,668" stroke="#000" stroke-width="1.9" fill="none" />
<path d="M121.8,674.3499999999999 L121.8,666.4 L124,662.4 L135,661.6 L165,662" stroke="#000" stroke-width="1.0" fill="none" />
<path d="M165.6,653.9 L218,654 Q226.5,654.6 228.6,657.6 L229.4,662" stroke="#000" stroke-width="1.8" fill="none" />
<path d="M166.4,658.9 L217,658.9 Q223,659 225.5,661" stroke="#000" stroke-width="1.8" fill="none" />
<line x1="165.6" y1="653.9" x2="166.4" y2="658.9" stroke="#000" stroke-width="1.2" />
<line x1="216" y1="654" x2="216" y2="658.9" stroke="#000" stroke-width="1.0" />
<line x1="221" y1="654.6" x2="221" y2="659.4" stroke="#000" stroke-width="1.0" />
<path d="M229.4,656.5 L229.4,674.3499999999999" stroke="#000" stroke-width="1.9" fill="none" />
<line x1="229.4" y1="660.6" x2="262" y2="660.6" stroke="#000" stroke-width="2.3" />
<line x1="201" y1="670" x2="275" y2="670" stroke="#000" stroke-width="2.0" />
<path d="M171.4,674.3499999999999 L171.4,664.4 L189,664.4 L189,674.3499999999999" stroke="#000" stroke-width="2.2" fill="none" />
<path d="M175.8,674.3499999999999 L175.8,666.6 L185,666.6 L185,674.3499999999999" stroke="#000" stroke-width="2.0" fill="none" />
<rect x="185.6" y="663.6" width="3.8" height="10.6" rx="0" stroke="#000" stroke-width="0.4" fill="#000"/>
<circle cx="187.8" cy="662.8" r="0.8" fill="#000"/>
<circle cx="187.8" cy="669.4" r="0.8" fill="#000"/>
<circle cx="187.8" cy="666" r="0.7" fill="#fff"/>
<circle cx="187.8" cy="672.6" r="0.7" fill="#fff"/>
<path d="M199.6,674.3499999999999 L199.6,668.4 L210.6,668.4" stroke="#000" stroke-width="2.8" fill="none" />
<path d="M252.3,674.3499999999999 A10.6,10.6 0 0 1 262,663.2" stroke="#000" stroke-width="1.3" fill="none" />
<line x1="262" y1="663.2" x2="275" y2="663.2" stroke="#000" stroke-width="1.2" />
<path d="M268.5,665.5 L269.5,667.2" stroke="#000" stroke-width="1.2" fill="none" />
<path d="M252,614.8 L260.2,611.5 L288.2,611.5 L288.2,650.2 L252,650.2 Z" stroke="#000" stroke-width="1.8" fill="#fff" />
<path d="M252,616.7 L252,614.8 L260.2,611.2 L288.2,611.2 L288.2,616.7 Z" stroke="#000" stroke-width="0.8" fill="#000" />
<rect x="252" y="614.6" width="8.8" height="6.8" rx="0" stroke="#000" stroke-width="0.6" fill="#000"/>
<rect x="252" y="643.5" width="8.8" height="6.7" rx="0" stroke="#000" stroke-width="0.6" fill="#000"/>
<rect x="261.4" y="616.9" width="12.6" height="31" rx="0" stroke="#000" stroke-width="1.5" fill="#fff"/>
<rect x="262.3" y="619" width="9.4" height="26.6" rx="0" stroke="#000" stroke-width="0.6" fill="#000"/>
<rect x="265" y="612.6" width="5" height="1.1" rx="0" stroke="#fff" stroke-width="0.2" fill="#fff"/>
<rect x="276.5" y="612.6" width="6" height="1.1" rx="0" stroke="#fff" stroke-width="0.2" fill="#fff"/>
<rect x="242.1" y="621.9" width="17.6" height="21.4" rx="3" stroke="#000" stroke-width="2.5" fill="#fff"/>
<rect x="245.2" y="625.4" width="3" height="13.4" rx="1.2" stroke="#000" stroke-width="0.5" fill="#000"/>
<circle cx="250.9" cy="627" r="1.2" fill="#000"/>
<circle cx="250.9" cy="632.2" r="1.2" fill="#000"/>
<circle cx="250.9" cy="637.6" r="1.2" fill="#000"/>
<circle cx="253.9" cy="627" r="1.2" fill="#000"/>
<circle cx="253.9" cy="632.2" r="1.2" fill="#000"/>
<circle cx="253.9" cy="637.6" r="1.2" fill="#000"/>
<circle cx="256.9" cy="627" r="1.2" fill="#000"/>
<circle cx="256.9" cy="632.2" r="1.2" fill="#000"/>
<circle cx="256.9" cy="637.6" r="1.2" fill="#000"/>
<rect x="292.6" y="614.4" width="16.6" height="36.3" rx="0" stroke="#000" stroke-width="1.2" fill="#fff"/>
<rect x="292" y="613.9" width="17.6" height="4.7" rx="0" stroke="#000" stroke-width="0.4" fill="#000"/>
<rect x="292" y="646.7" width="17.6" height="4.4" rx="0" stroke="#000" stroke-width="0.4" fill="#000"/>
<rect x="295" y="623" width="10.6" height="19" rx="0" stroke="#000" stroke-width="0.6" fill="#000"/>
<line x1="305.3" y1="618" x2="305.3" y2="647" stroke="#000" stroke-width="1.7" />
<line x1="309.3" y1="615" x2="309.3" y2="650" stroke="#000" stroke-width="1.6" />
<path d="M309.4,617.3 L320,617.3 Q323,618 323.6,622 Q324.6,632.5 323.6,643 Q323,647 320,647.7 L309.4,647.7" stroke="#000" stroke-width="2.6" fill="#fff" />
<path d="M315.6,618.4 Q321,632.8 315.6,646.8" stroke="#000" stroke-width="2.2" fill="none" />
<rect x="292.4" y="611.4" width="5" height="2.8" rx="0" stroke="#000" stroke-width="1.0" fill="#fff"/>
<path d="M262.5,652 Q262.5,659 268,659 L274,659 L274,652 Z" stroke="#000" stroke-width="1.6" fill="#fff" />
<path d="M264.5,657.8 Q266,652.6 274,652.8" stroke="#000" stroke-width="1.2" fill="none" />
<rect x="273.2" y="649" width="5.4" height="13" rx="0" stroke="#000" stroke-width="0.6" fill="#000"/>
<line x1="292.5" y1="650" x2="292.5" y2="660.5" stroke="#000" stroke-width="1.3" />
<line x1="298.5" y1="650" x2="298.5" y2="660.5" stroke="#000" stroke-width="1.3" />
<path d="M339.4,660.3 L339.4,634.4 L363,634.4 L363,660.3" stroke="#000" stroke-width="1.7" fill="none" />
<path d="M360.5,643.4 L368.4,643.4 Q372.8,643.6 372.8,647.8 Q372.8,652 368.4,652.2 L360.5,652.2 Q356.1,652 356.1,647.8 Q356.1,643.6 360.5,643.4 Z" stroke="#000" stroke-width="2.0" fill="#fff" />
<path d="M365.5,642.6 L369,642.6" stroke="#000" stroke-width="1.6" fill="none" />
<path d="M365,653.2 L369,653.2" stroke="#000" stroke-width="2.0" fill="none" />
<path d="M373.4,645.5 L373.4,650" stroke="#000" stroke-width="1.6" fill="none" />
<path d="M650.2,674.3499999999999 L650.2,622.5 L673.4,622.5 L673.4,674.3499999999999" stroke="#000" stroke-width="1.7" fill="#fff" />
<path d="M661.3,667.2 L671,667.2 Q672.3,667.4 672.3,668.8 L672.3,674.3499999999999" stroke="#000" stroke-width="2.3" fill="none" />
<path d="M645,660.6 L661.3,660.6 L661.3,674.3499999999999 L645,674.3499999999999 Z" stroke="#fff" stroke-width="0.1" fill="#fff" />
<line x1="339.4" y1="660.6" x2="661.3" y2="660.6" stroke="#000" stroke-width="2.3" />
<line x1="339.4" y1="666.3" x2="661.3" y2="666.3" stroke="#000" stroke-width="1.5" />
<line x1="340" y1="659.6" x2="340" y2="667" stroke="#000" stroke-width="2.0" />
<path d="M661.3,659.5 L661.3,674.3499999999999" stroke="#000" stroke-width="2.4" fill="none" />
<circle cx="653" cy="669.6" r="2.7" fill="#000"/></g>
<line x1="40.8" y1="673.6" x2="50" y2="673.6" stroke="#000" stroke-width="1.4" />
<line x1="108.9" y1="673.6" x2="120" y2="673.6" stroke="#000" stroke-width="1.4" />
<line x1="120" y1="673.8" x2="171.4" y2="673.8" stroke="#000" stroke-width="1.0" />
<line x1="189" y1="673.8" x2="199.6" y2="673.8" stroke="#000" stroke-width="1.0" />
<rect x="275" y="616.7" width="9.2" height="114.7" rx="0" stroke="#000" stroke-width="1.7" fill="#fff"/>
<g><path d="M288.3,616.1 Q298.5,631 291.1,645 L286.5,654.5" stroke="#000" stroke-width="2.0" fill="none" />
<path d="M285.6,617.8 Q294,631.5 286.7,643.9" stroke="#000" stroke-width="2.0" fill="none" />
<path d="M286.5,654.5 L284.8,653.4 Q288,648 288.6,645" stroke="#000" stroke-width="1.2" fill="none" /></g>
<g transform="translate(0,1348.1) scale(1,-1)"><path d="M288.3,616.1 Q298.5,631 291.1,645 L286.5,654.5" stroke="#000" stroke-width="2.0" fill="none" />
<path d="M285.6,617.8 Q294,631.5 286.7,643.9" stroke="#000" stroke-width="2.0" fill="none" />
<path d="M286.5,654.5 L284.8,653.4 Q288,648 288.6,645" stroke="#000" stroke-width="1.2" fill="none" /></g>
<rect x="284.9" y="660.8" width="20.4" height="26.8" rx="2.5" stroke="#000" stroke-width="2.4" fill="#fff"/>
<rect x="286.9" y="666.6" width="9.6" height="15" rx="1.2" stroke="#000" stroke-width="2.2" fill="none"/>
<line x1="291.5" y1="666.6" x2="291.5" y2="681.6" stroke="#000" stroke-width="1.6" />
<line x1="286.9" y1="674.1" x2="305" y2="674.1" stroke="#000" stroke-width="1.7" />
<rect x="306.6" y="662.6" width="9.8" height="23.2" rx="0" stroke="#000" stroke-width="2.2" fill="#fff"/>
<rect x="317.7" y="664.2" width="12.6" height="19.9" rx="0" stroke="#000" stroke-width="2.0" fill="#fff"/>
<path d="M321.7,663.8 L322.6,659.6 Q325.2,656.6 327.8,659.6 L328.7,663.8 Z" stroke="#000" stroke-width="0.8" fill="#000" />
<rect x="318.2" y="684.1" width="11.6" height="3.3" rx="0" stroke="#000" stroke-width="0.4" fill="#000"/>
<circle cx="325.8" cy="692.3" r="4.1" stroke="#000" stroke-width="1.9" fill="#fff"/>
<line x1="330.4" y1="663.8" x2="339.4" y2="663.8" stroke="#000" stroke-width="1.9" />
<line x1="330.4" y1="683.6" x2="339.4" y2="683.6" stroke="#000" stroke-width="1.9" />
<rect x="273.9" y="662.6" width="3.2" height="23.2" rx="0" stroke="#000" stroke-width="0.4" fill="#000"/>
<path d="M475.6,647.3 L511,627.2 Q523.5,621.8 536,624 Q548,627 554.6,636.7 L555.3,640 L555.3,707.6 L554.6,710.9 Q548,720.6 536,723.6 Q523.5,725.8 511,720.4 L475.6,700.3 Z" stroke="#000" stroke-width="1.6" fill="#fff" />
<path d="M483,651 L512.5,632 Q523.5,626.5 534,628 Q541.5,630.5 546.6,639.6 L546.6,708 Q541.5,717.1 534,719.6 Q523.5,721.1 512.5,715.6 L483,696.6 Z" stroke="#000" stroke-width="1.5" fill="none" />
<line x1="475.6" y1="647.3" x2="483" y2="651" stroke="#000" stroke-width="1.1" />
<line x1="475.6" y1="700.3" x2="483" y2="696.6" stroke="#000" stroke-width="1.1" />
<line x1="554.6" y1="636.7" x2="546.6" y2="639.6" stroke="#000" stroke-width="1.1" />
<line x1="554.6" y1="710.9" x2="546.6" y2="708" stroke="#000" stroke-width="1.1" />
<path d="M489.6,647 L489.6,700.6" stroke="#000" stroke-width="1.4" fill="none" />
<path d="M494,644.2 L494,703.4" stroke="#000" stroke-width="1.1" fill="none" />
<line x1="509.8" y1="632.5" x2="509.8" y2="637.5" stroke="#000" stroke-width="1.3" />
<line x1="509.8" y1="715.6" x2="509.8" y2="710.6" stroke="#000" stroke-width="1.3" />
<line x1="531.5" y1="628" x2="531.5" y2="634.2" stroke="#000" stroke-width="1.3" />
<line x1="531.5" y1="720.1" x2="531.5" y2="713.9" stroke="#000" stroke-width="1.3" />
<line x1="512.5" y1="721" x2="513.5" y2="716" stroke="#000" stroke-width="1.0" />
<line x1="512.5" y1="626.6" x2="513.5" y2="631.6" stroke="#000" stroke-width="1.0" />
<path d="M495.4,645.4 L509,637 Q520,633.3 531,634.2 Q538.5,635 541,639 L544.5,642 L544.5,705.6 L541,708.6 Q538.5,712.6 531,713.4 Q520,714.3 509,710.6 L495.4,702.2 Z" stroke="#000" stroke-width="0.8" fill="#000" />
</g>
<line x1="16.2" y1="208.7" x2="16.2" y2="465.8" stroke="#666" stroke-width="0.9" />
<line x1="14.5" y1="208.7" x2="106" y2="208.7" stroke="#666" stroke-width="0.9" />
<line x1="14.5" y1="465.8" x2="96" y2="465.8" stroke="#666" stroke-width="0.9" />
<polygon points="16.2,208.7 17.1,213.2 15.3,213.2" fill="#666"/>
<polygon points="16.2,465.8 15.3,461.3 17.1,461.3" fill="#666"/>
<text x="15.5" y="338" transform="rotate(-90 15.5 338)" font-size="7.7" text-anchor="middle" fill="#222" stroke="#222" stroke-width="0.25" font-style="italic">883.5</text>
<line x1="41.2" y1="277" x2="41.2" y2="502" stroke="#666" stroke-width="0.9" />
<line x1="673.6" y1="466" x2="673.6" y2="502" stroke="#666" stroke-width="0.9" />
<line x1="41.2" y1="500.3" x2="673.6" y2="500.3" stroke="#666" stroke-width="0.9" />
<polygon points="41.2,500.3 45.7,499.4 45.7,501.2" fill="#666"/>
<polygon points="673.6,500.3 669.1,501.2 669.1,499.4" fill="#666"/>
<text x="357" y="500" transform="rotate(0 357 500)" font-size="7.7" text-anchor="middle" fill="#222" stroke="#222" stroke-width="0.25" font-style="italic">2173</text>
<line x1="337.8" y1="321.5" x2="657.2" y2="304.4" stroke="#666" stroke-width="0.9" />
<line x1="337.7" y1="320" x2="340.6" y2="380" stroke="#666" stroke-width="0.9" />
<line x1="657.1" y1="302.8" x2="660.7" y2="363" stroke="#666" stroke-width="0.9" />
<polygon points="337.8,321.5 342.2,320.4 342.3,322.2" fill="#666"/>
<polygon points="657.2,304.4 652.8,305.5 652.7,303.7" fill="#666"/>
<text x="497.5" y="312.8" transform="rotate(-2.9938415817605204 497.5 312.8)" font-size="7.7" text-anchor="middle" fill="#222" stroke="#222" stroke-width="0.25" font-style="italic">1100</text>
<line x1="354.4" y1="338.6" x2="648" y2="322.9" stroke="#666" stroke-width="0.9" />
<line x1="354.3" y1="337" x2="356.6" y2="380" stroke="#666" stroke-width="0.9" />
<line x1="647.9" y1="321.4" x2="650.4" y2="363.5" stroke="#666" stroke-width="0.9" />
<polygon points="354.4,338.6 358.8,337.5 358.9,339.3" fill="#666"/>
<polygon points="648,322.9 643.6,324 643.5,322.2" fill="#666"/>
<text x="501.4" y="330.6" transform="rotate(-2.9938415817605204 501.4 330.6)" font-size="7.7" text-anchor="middle" fill="#222" stroke="#222" stroke-width="0.25" font-style="italic">1010</text>
<line x1="765.9" y1="193.2" x2="882.6" y2="193.2" stroke="#666" stroke-width="0.9" />
<line x1="765.9" y1="191.5" x2="765.9" y2="316" stroke="#666" stroke-width="0.9" />
<line x1="882.6" y1="191.5" x2="882.6" y2="316" stroke="#666" stroke-width="0.9" />
<polygon points="765.9,193.2 770.4,192.3 770.4,194.1" fill="#666"/>
<polygon points="882.6,193.2 878.1,194.1 878.1,192.3" fill="#666"/>
<text x="824.4" y="193" transform="rotate(0 824.4 193)" font-size="7.7" text-anchor="middle" fill="#222" stroke="#222" stroke-width="0.25" font-style="italic">400</text>
<line x1="782.8" y1="335" x2="782.8" y2="488.5" stroke="#666" stroke-width="0.9" />
<line x1="865.6" y1="335" x2="865.6" y2="488.5" stroke="#666" stroke-width="0.9" />
<line x1="782.8" y1="487" x2="865.6" y2="487" stroke="#666" stroke-width="0.9" />
<polygon points="782.8,487 787.3,486.1 787.3,487.9" fill="#666"/>
<polygon points="865.6,487 861.1,487.9 861.1,486.1" fill="#666"/>
<text x="824.3" y="486.7" transform="rotate(0 824.3 486.7)" font-size="7.7" text-anchor="middle" fill="#222" stroke="#222" stroke-width="0.25" font-style="italic">285.5</text>
<line x1="9.9" y1="601.3" x2="9.9" y2="746.7" stroke="#666" stroke-width="0.9" />
<line x1="8.4" y1="601.3" x2="100" y2="601.3" stroke="#666" stroke-width="0.9" />
<line x1="8.4" y1="746.7" x2="100" y2="746.7" stroke="#666" stroke-width="0.9" />
<polygon points="9.9,601.3 10.8,605.8 9,605.8" fill="#666"/>
<polygon points="9.9,746.7 9,742.2 10.8,742.2" fill="#666"/>
<text x="9.4" y="674.2" transform="rotate(-90 9.4 674.2)" font-size="7.7" text-anchor="middle" fill="#222" stroke="#222" stroke-width="0.25" font-style="italic">438</text>
<line x1="31.7" y1="650.7" x2="31.7" y2="697.3" stroke="#666" stroke-width="0.9" />
<line x1="30" y1="650.7" x2="46" y2="650.7" stroke="#666" stroke-width="0.9" />
<line x1="30" y1="697.3" x2="46" y2="697.3" stroke="#666" stroke-width="0.9" />
<polygon points="31.7,650.7 32.6,655.2 30.8,655.2" fill="#666"/>
<polygon points="31.7,697.3 30.8,692.8 32.6,692.8" fill="#666"/>
<text x="31.3" y="674" transform="rotate(-90 31.3 674)" font-size="7.7" text-anchor="middle" fill="#222" stroke="#222" stroke-width="0.25" font-style="italic">163</text>
<line x1="688.7" y1="622.5" x2="688.7" y2="726" stroke="#666" stroke-width="0.9" />
<line x1="673.5" y1="622.5" x2="690" y2="622.5" stroke="#666" stroke-width="0.9" />
<line x1="673.5" y1="726" x2="690" y2="726" stroke="#666" stroke-width="0.9" />
<polygon points="688.7,622.5 689.6,627 687.8,627" fill="#666"/>
<polygon points="688.7,726 687.8,721.5 689.6,721.5" fill="#666"/>
<text x="688.4" y="674" transform="rotate(-90 688.4 674)" font-size="7.7" text-anchor="middle" fill="#222" stroke="#222" stroke-width="0.25" font-style="italic">356</text>
</svg>
</body></html>
